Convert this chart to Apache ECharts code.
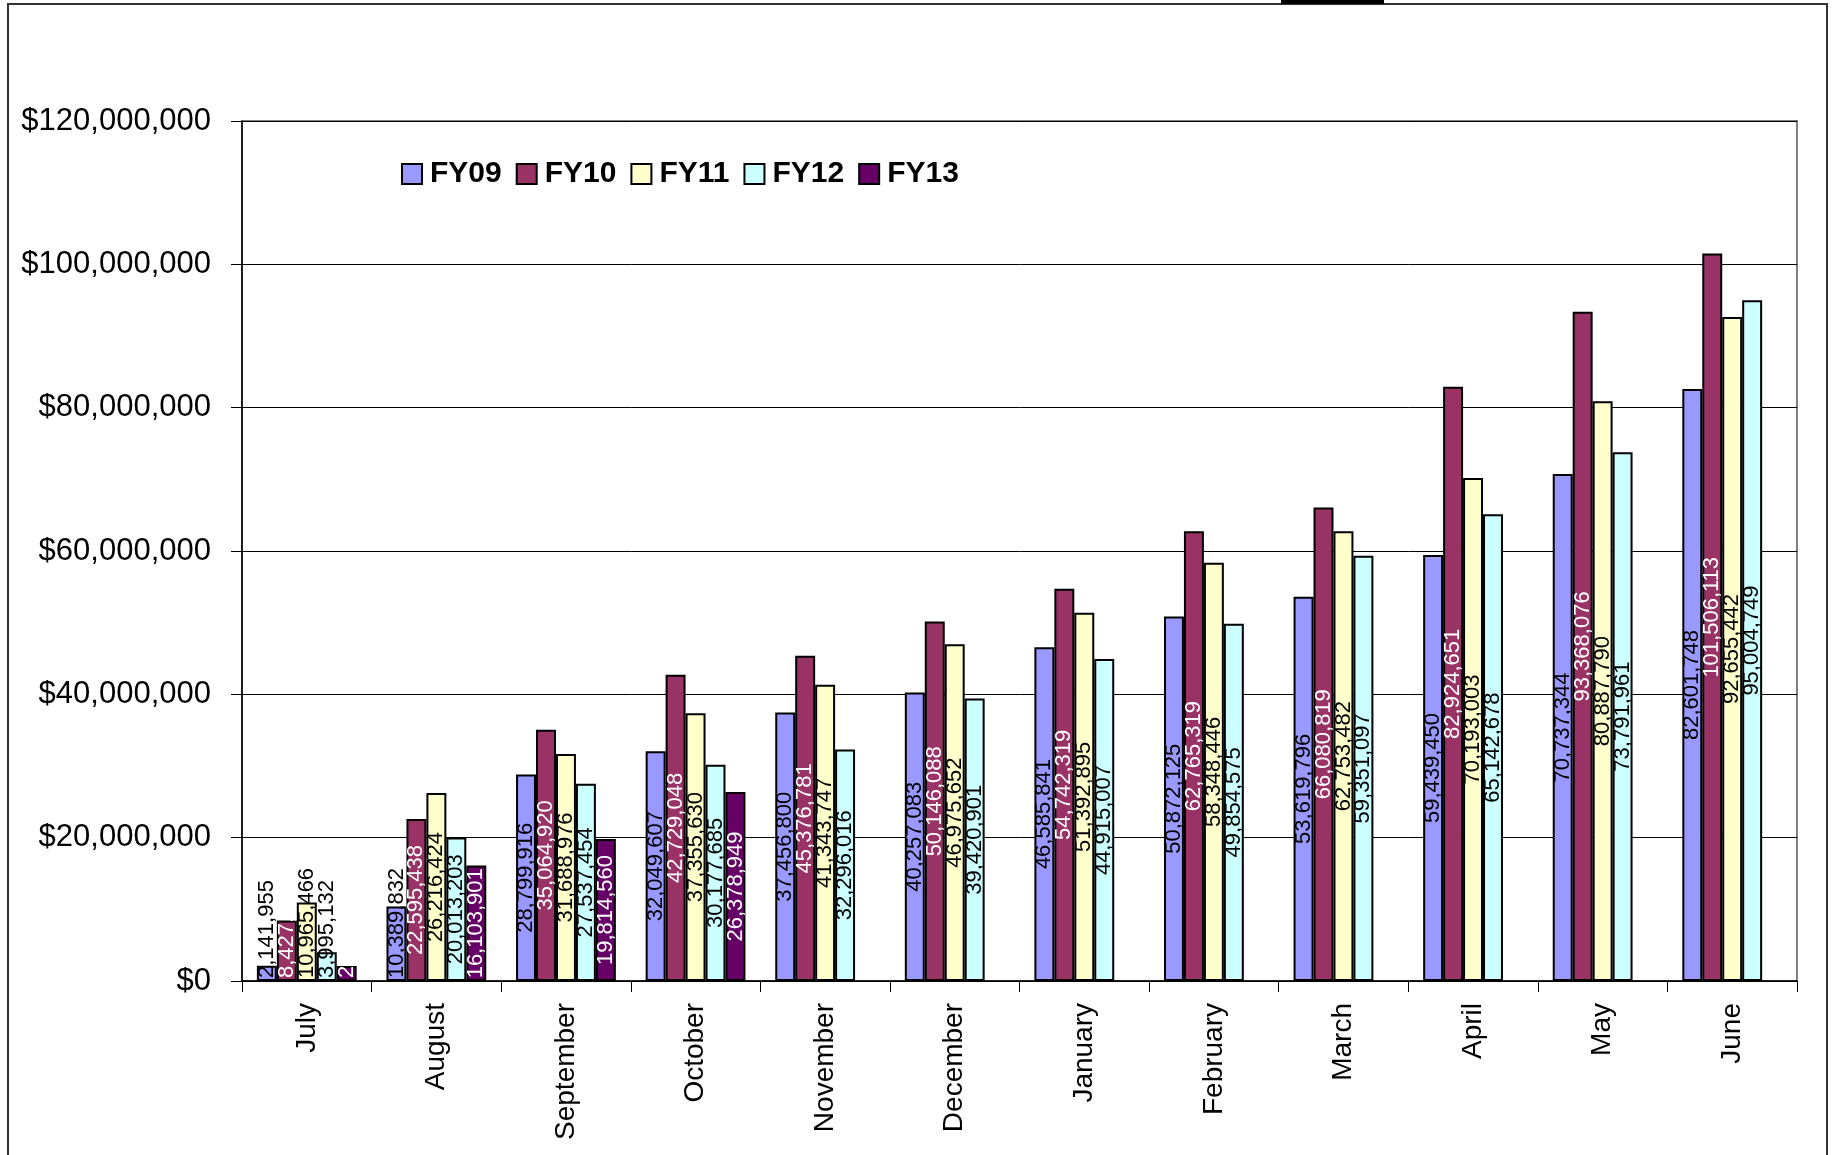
<!DOCTYPE html>
<html>
<head>
<meta charset="utf-8">
<script src="https://cdn.jsdelivr.net/npm/echarts@6/dist/echarts.min.js"></script>
<style>
html,body{margin:0;padding:0;background:#fff;}
#chart{width:1835px;height:1155px;}
</style>
</head>
<body>
<div id="chart"></div>
<script>
const categories = ['July','August','September','October','November','December','January','February','March','April','May','June'];
const seriesNames = ['FY09','FY10','FY11','FY12','FY13'];
const fy09 = [2141955, 10389832, 28799916, 32049607, 37456800, 40257083, 46585841, 50872125, 53619796, 59439450, 70737344, 82601748];
const fy10 = [8427200, 22595438, 35064920, 42729048, 45376781, 50146088, 54742319, 62765319, 66080819, 82924651, 93368076, 101506113];
const fy11 = [10965466, 26216424, 31688976, 37355630, 41343747, 46975652, 51392895, 58348446, 62753482, 70193003, 80887790, 92655442];
const fy12 = [3995132, 20013203, 27537454, 30177685, 32296016, 39420901, 44915007, 49854575, 59351097, 65142678, 73791961, 95004749];
const fy13 = [2105000, 16103901, 19814560, 26378949, null, null, null, null, null, null, null, null];
const yTicks = { min: 0, max: 120000000, interval: 20000000 };

const colors = ['#9999FF', '#993366', '#FFFFCC', '#CCFFFF', '#660066'];
const labelColors = ['#000', '#fff', '#000', '#000', '#fff'];
const FONT = '"Liberation Sans", Arial, sans-serif';

function fmt(v) {
  return String(Math.round(v)).replace(/\B(?=(\d{3})+(?!\d))/g, ',');
}

const allData = [fy09, fy10, fy11, fy12, fy13];
const series = allData.map((arr, i) => ({
  name: seriesNames[i],
  type: 'bar',
  barGap: '0%',
  barCategoryGap: '23%',
  itemStyle: { color: colors[i], borderColor: '#000', borderWidth: 2 },
  label: {
    show: true,
    position: 'inside',
    rotate: 90,
    fontSize: 22,
    fontFamily: FONT,
    color: labelColors[i],
    formatter: p => fmt(p.value)
  },
  data: arr.map(v => {
    if (v == null) return null;
    if (v < 15000000) {
      return { value: v, label: { position: 'insideBottom', distance: 3, align: 'left', verticalAlign: 'middle' } };
    }
    return v;
  })
}));

const chart = echarts.init(document.getElementById('chart'), null, { renderer: 'canvas' });
chart.setOption({
  backgroundColor: '#fff',
  animation: false,
  grid: {
    left: 242, right: 38, top: 121, bottom: 174,
    show: true, borderColor: '#808080', borderWidth: 2, backgroundColor: '#fff'
  },
  legend: {
    left: 401, top: 159, padding: 0,
    itemWidth: 20, itemHeight: 20, itemGap: 14,
    icon: 'rect',
    textStyle: { fontSize: 30, fontWeight: 'bold', fontFamily: FONT, color: '#000', padding: [0, 0, 0, 3] },
    data: seriesNames
  },
  xAxis: {
    type: 'category',
    data: categories,
    boundaryGap: true,
    axisLine: { show: true, lineStyle: { color: '#000', width: 1.5 } },
    axisTick: { show: true, alignWithLabel: false, length: 11, lineStyle: { color: '#000', width: 1 } },
    axisLabel: { rotate: 90, interval: 0, margin: 22, fontSize: 28, fontFamily: FONT, color: '#000' },
    splitLine: { show: false }
  },
  yAxis: {
    type: 'value',
    min: yTicks.min, max: yTicks.max, interval: yTicks.interval,
    axisLine: { show: true, lineStyle: { color: '#000', width: 1.5 } },
    axisTick: { show: true, length: 11, lineStyle: { color: '#000', width: 1 } },
    axisLabel: { margin: 31, fontSize: 31, fontFamily: FONT, color: '#000', formatter: v => '$' + fmt(v) },
    splitLine: { show: true, lineStyle: { color: '#000', width: 1 } }
  },
  graphic: [
    { type: 'rect', shape: { x: 8, y: 4, width: 1819, height: 1200 }, style: { fill: 'none', stroke: '#333', lineWidth: 2 }, z: 100 },
    { type: 'rect', shape: { x: 1281, y: 0, width: 103, height: 4 }, style: { fill: '#000' }, z: 100 }
  ],
  series: series
});
</script>
</body>
</html>
